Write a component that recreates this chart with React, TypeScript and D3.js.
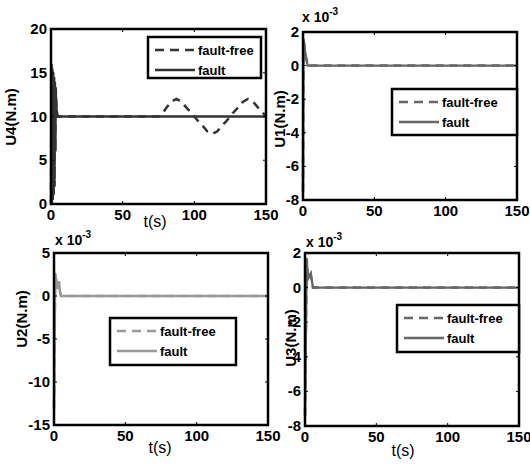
import React from "react";
import * as d3 from "d3";

// ---------- data ----------
const X_TICKS = [0, 50, 100, 150];

// Panel U4
const U4_TICKS = [0, 5, 10, 15, 20];
const U4_FF_T = [0, 0.3, 0.6, 0.9, 1.2, 1.5, 1.8, 2.1, 2.4, 2.7, 3.0, 3.3, 3.8, 4.5, 75, 78, 81, 84, 87.5, 91, 94, 97, 100, 103, 106, 109, 112.5, 116, 119, 122, 125, 128, 131, 134, 137.5, 141, 144, 147, 150];
const U4_FF_V = [0, 16, 0, 15.5, 0.5, 15, 1, 14.5, 2, 14, 6, 13.3, 11, 10, 10, 10.4, 11.1, 11.7, 12, 11.7, 11.1, 10.6, 10, 9.4, 8.9, 8.3, 8, 8.3, 8.9, 9.4, 10, 10.6, 11.1, 11.7, 12, 11.7, 11.1, 10.6, 10];
const U4_F_T = [0, 0.3, 0.6, 0.9, 1.2, 1.5, 1.8, 2.1, 2.4, 2.7, 3.0, 3.3, 3.8, 4.5, 150];
const U4_F_V = [0, 16, 0, 15.5, 0.5, 15, 1, 14.5, 2, 14, 6, 13.3, 11, 10, 10];

// Panel U1 (x 1e-3)
const U1_TICKS = [-8, -6, -4, -2, 0, 2];
const U1_T = [0, 0.3, 1.0, 1.6, 2.1, 2.6, 3.2, 150];
const U1_V = [-7.5, 1.6, 1.2, 0.7, 0.5, 0.3, 0, 0];

// Panel U2 (x 1e-3)
const U2_TICKS = [-15, -10, -5, 0, 5];
const U2_T = [0, 0.9, 2.3, 3.5, 4.3, 5.0, 150];
const U2_V = [-13.1, 2.7, 0.8, 1.7, 0.4, 0, 0];

// Panel U3 (x 1e-3)
const U3_TICKS = [-8, -6, -4, -2, 0, 2];
const U3_T = [0, 1.2, 2.1, 4.0, 4.9, 5.6, 150];
const U3_V = [-7.4, 1.7, 0.5, 0.8, 0.35, 0, 0];

const LEGEND_LABELS = ["fault-free", "fault"];

// ---------- components ----------
const FONT = "'Liberation Sans', Arial, Helvetica, sans-serif";

type PanelProps = {
  left: number; right: number; top: number; bottom: number;
  yDomain: [number, number]; yTicks: number[];
  ffT: number[]; ffV: number[]; fT: number[]; fV: number[];
  color: string;
  ylabel: string; ylabelX: number; ylabelY: number;
  xlabelPos?: [number, number];
  expPos?: [number, number];
  legend: { x: number; y: number; w: number; h: number };
};

function Panel(p: PanelProps) {
  const x = d3.scaleLinear().domain([0, 150]).range([p.left, p.right]);
  const y = d3.scaleLinear().domain(p.yDomain).range([p.bottom, p.top]);
  const line = d3.line<[number, number]>().x((d) => x(d[0])).y((d) => y(d[1]));
  const ff = line(p.ffT.map((t, i) => [t, p.ffV[i]] as [number, number])) || "";
  const f = line(p.fT.map((t, i) => [t, p.fV[i]] as [number, number])) || "";
  const tl = 3;
  const L = p.legend;
  return (
    <g>
      <path d={ff} fill="none" stroke={p.color} strokeWidth={2.5} strokeDasharray="8,6" />
      <path d={f} fill="none" stroke={p.color} strokeWidth={2.3} />
      {X_TICKS.map((t) => (
        <g key={"x" + t}>
          <line x1={x(t)} x2={x(t)} y1={p.bottom} y2={p.bottom - tl} stroke="#000" strokeWidth={1} />
          <line x1={x(t)} x2={x(t)} y1={p.top} y2={p.top + tl} stroke="#000" strokeWidth={1} />
          <text x={x(t)} y={p.bottom + 16} textAnchor="middle" fontSize={15} fontWeight="bold" fontFamily={FONT}>{t}</text>
        </g>
      ))}
      {p.yTicks.map((t) => (
        <g key={"y" + t}>
          <line x1={p.left} x2={p.left + tl} y1={y(t)} y2={y(t)} stroke="#000" strokeWidth={1} />
          <line x1={p.right} x2={p.right - tl} y1={y(t)} y2={y(t)} stroke="#000" strokeWidth={1} />
          <text x={p.left - 4} y={y(t) + 5} textAnchor="end" fontSize={15} fontWeight="bold" fontFamily={FONT}>{t}</text>
        </g>
      ))}
      <rect x={p.left} y={p.top} width={p.right - p.left} height={p.bottom - p.top} fill="none" stroke="#000" strokeWidth={2.5} />
      <text transform={`translate(${p.ylabelX},${p.ylabelY}) rotate(-90)`} textAnchor="middle" dominantBaseline="middle" fontSize={15} fontWeight="bold" fontFamily={FONT}>{p.ylabel}</text>
      {p.xlabelPos && (
        <text x={p.xlabelPos[0]} y={p.xlabelPos[1]} textAnchor="middle" fontSize={16} fontFamily={FONT}>t(s)</text>
      )}
      {p.expPos && (
        <text x={p.expPos[0]} y={p.expPos[1]} fontSize={14} fontWeight="bold" fontFamily={FONT}>
          x 10<tspan dy={-7} fontSize={10}>-3</tspan>
        </text>
      )}
      <g>
        <rect x={L.x} y={L.y} width={L.w} height={L.h} fill="#fff" stroke="#000" strokeWidth={2.5} />
        {LEGEND_LABELS.map((lab, i) => {
          const ry = L.y + 13 + i * 20;
          return (
            <g key={lab}>
              <line x1={L.x + 7} x2={L.x + 47} y1={ry} y2={ry} stroke={p.color} strokeWidth={2.5} strokeDasharray={i === 0 ? "9,6" : undefined} />
              <text x={L.x + 50} y={ry + 5} fontSize={13} fontWeight="bold" fontFamily={FONT}>{lab}</text>
            </g>
          );
        })}
      </g>
    </g>
  );
}

export default function App() {
  return (
    <svg width={530} height={469} style={{ position: "absolute", left: 0, top: 0, background: "#fff" }}>
      <rect width={530} height={469} fill="#fff" />
      <Panel left={51} right={266} top={29} bottom={204} yDomain={[0, 20]} yTicks={U4_TICKS}
        ffT={U4_FF_T} ffV={U4_FF_V} fT={U4_F_T} fV={U4_F_V} color="#333"
        ylabel="U4(N.m)" ylabelX={12} ylabelY={117} xlabelPos={[155, 227]}
        legend={{ x: 148, y: 37, w: 113, h: 41 }} />
      <Panel left={303} right={517} top={32} bottom={200} yDomain={[-8, 2]} yTicks={U1_TICKS}
        ffT={U1_T} ffV={U1_V} fT={U1_T} fV={U1_V} color="#666"
        ylabel="U1(N.m)" ylabelX={281} ylabelY={119} expPos={[302, 22]}
        legend={{ x: 392, y: 89, w: 125, h: 46 }} />
      <Panel left={54} right={268} top={253} bottom={425} yDomain={[-15, 5]} yTicks={U2_TICKS}
        ffT={U2_T} ffV={U2_V} fT={U2_T} fV={U2_V} color="#999"
        ylabel="U2(N.m)" ylabelX={23} ylabelY={319} xlabelPos={[160, 453]} expPos={[55, 245]}
        legend={{ x: 110, y: 318, w: 126, h: 47 }} />
      <Panel left={305} right={519} top={253} bottom={426} yDomain={[-8, 2]} yTicks={U3_TICKS}
        ffT={U3_T} ffV={U3_V} fT={U3_T} fV={U3_V} color="#666"
        ylabel="U3(N.m)" ylabelX={292} ylabelY={338} xlabelPos={[403, 456]} expPos={[306, 247]}
        legend={{ x: 397, y: 305, w: 122, h: 47 }} />
    </svg>
  );
}
